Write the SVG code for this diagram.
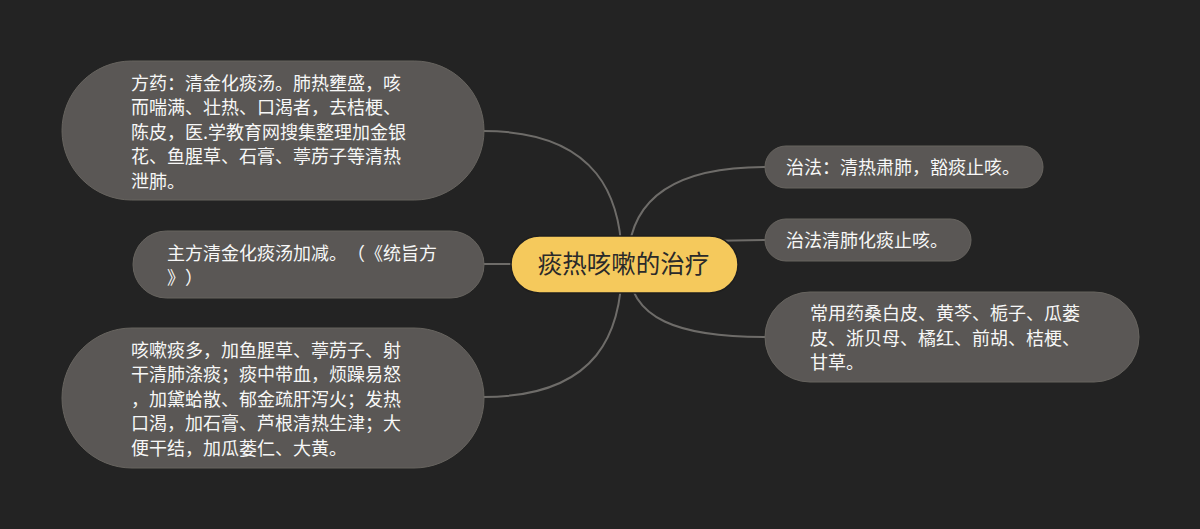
<svg xmlns="http://www.w3.org/2000/svg" width="1200" height="529" viewBox="0 0 1200 529">
<style>
.bg{fill:#232323}
.node{fill:#5a5755;stroke:#67645f;stroke-width:1}
.root{fill:#f5c95c;stroke:#1e1e1e;stroke-width:1.5}
text{text-spacing-trim:space-all;font-kerning:none}
.t{font-family:"Noto Sans CJK SC","Noto Sans",sans-serif;font-size:18px;fill:#f7f7f7}
.rt{font-family:"Noto Sans CJK SC","Noto Sans",sans-serif;font-size:24.5px;fill:#2a2a2a}
.link{fill:none;stroke:#6e6c69;stroke-width:2}
</style>
<rect class="bg" x="0" y="0" width="1200" height="529"/>
<g id="connectors">
<path class="link" d="M483,131 C600,131 622,200 622,264"/>
<path class="link" d="M483,264 L625,264"/>
<path class="link" d="M483,397 C600,397 622,330 622,264"/>
<path class="link" d="M628,264 C628,195 680,167 765,167"/>
<path class="link" d="M628,264 C628,248 680,240 765,240"/>
<path class="link" d="M628,264 C628,320 680,337 765,337"/>
</g>
<g id="n1">
<rect class="node" x="62" y="61" width="422" height="139" rx="69.5"/>
<text class="t" x="131" y="89.5">方药：清金化痰汤。肺热壅盛，咳</text>
<text class="t" x="131" y="114">而喘满、壮热、口渴者，去桔梗、</text>
<text class="t" x="131" y="138.5">陈皮，医.学教育网搜集整理加金银</text>
<text class="t" x="131" y="163">花、鱼腥草、石膏、葶苈子等清热</text>
<text class="t" x="131" y="187.5">泄肺。</text>
</g>
<g id="n2">
<rect class="node" x="133" y="231" width="351" height="67" rx="33.5"/>
<text class="t" x="167" y="259.5">主方清金化痰汤加减。（《统旨方</text>
<text class="t" x="167" y="284">》）</text>
</g>
<g id="n3">
<rect class="node" x="62" y="328" width="422" height="140" rx="70"/>
<text class="t" x="131" y="356.5">咳嗽痰多，加鱼腥草、葶苈子、射</text>
<text class="t" x="131" y="381">干清肺涤痰；痰中带血，烦躁易怒</text>
<text class="t" x="131" y="405.5">，加黛蛤散、郁金疏肝泻火；发热</text>
<text class="t" x="131" y="430">口渴，加石膏、芦根清热生津；大</text>
<text class="t" x="131" y="454.5">便干结，加瓜蒌仁、大黄。</text>
</g>
<g id="root">
<rect class="root" x="511" y="236" width="227" height="57" rx="28.5"/>
<text class="rt" x="623.5" y="273" text-anchor="middle">痰热咳嗽的治疗</text>
</g>
<g id="r1">
<rect class="node" x="765" y="146" width="278" height="42" rx="21"/>
<text class="t" x="786" y="173.5">治法：清热肃肺，豁痰止咳。</text>
</g>
<g id="r2">
<rect class="node" x="765" y="219" width="206" height="42" rx="21"/>
<text class="t" x="786" y="247">治法清肺化痰止咳。</text>
</g>
<g id="r3">
<rect class="node" x="765" y="292" width="374" height="90" rx="45"/>
<text class="t" x="810" y="320">常用药桑白皮、黄芩、栀子、瓜蒌</text>
<text class="t" x="810" y="344.5">皮、浙贝母、橘红、前胡、桔梗、</text>
<text class="t" x="810" y="369">甘草。</text>
</g>
</svg>
